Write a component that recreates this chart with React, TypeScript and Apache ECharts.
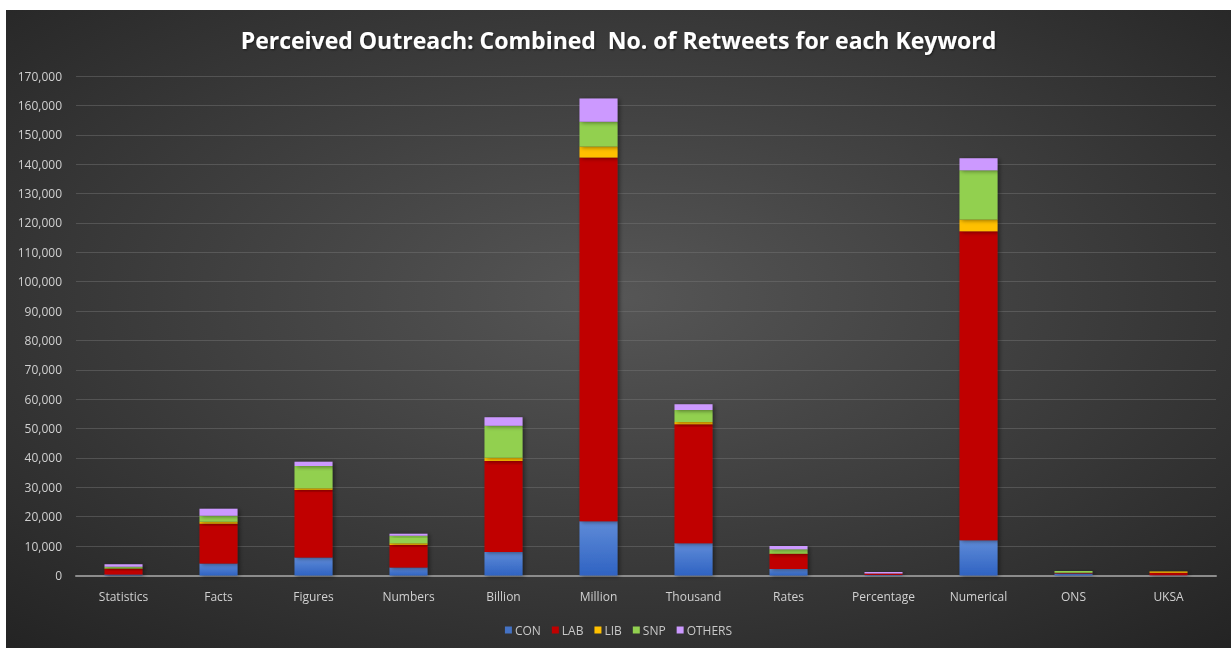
import React, { useEffect, useRef } from "react";
import * as echarts from "echarts";

const categories = ["Statistics", "Facts", "Figures", "Numbers", "Billion", "Million", "Thousand", "Rates", "Percentage", "Numerical", "ONS", "UKSA"];
const conValues = [300, 4100, 6100, 2700, 8000, 18500, 11000, 2200, 200, 12000, 700, 100];
const labValues = [2000, 13500, 23000, 7700, 31000, 123800, 40500, 5100, 500, 105200, 200, 800];
const libValues = [100, 700, 600, 600, 1100, 3700, 700, 200, 0, 4000, 0, 500];
const snpValues = [600, 2000, 7600, 2500, 10900, 8400, 4100, 1400, 0, 16700, 600, 0];
const otherValues = [800, 2400, 1400, 700, 2900, 7900, 2000, 1100, 500, 4100, 0, 0];

const titleText = "Perceived Outreach: Combined  No. of Retweets for each Keyword";

export default function App() {
  const ref = useRef<HTMLDivElement>(null);
  useEffect(() => {
    if (!ref.current) return;
    const chart = echarts.init(ref.current, undefined, { renderer: "svg" });
    const font = "'Open Sans', 'Noto Sans', sans-serif";
    const shadow = {
      shadowColor: "rgba(0,0,0,0.45)",
      shadowBlur: 4,
      shadowOffsetX: 2,
      shadowOffsetY: 1,
    };
    const mk = (name: string, data: number[], color: any, legendColor: string) => ({
      name,
      type: "bar",
      stack: "total",
      barWidth: 38,
      data,
      itemStyle: { color, ...shadow },
      emphasis: { disabled: true },
      _legendColor: legendColor,
    });
    const conGrad = new echarts.graphic.LinearGradient(0, 0, 0, 1, [
      { offset: 0, color: "#5f8bd8" },
      { offset: 1, color: "#2f63c2" },
    ]);
    const series = [
      mk("CON", conValues, conGrad, "#4472C4"),
      mk("LAB", labValues, "#C00000", "#C00000"),
      mk("LIB", libValues, "#FFC000", "#FFC000"),
      mk("SNP", snpValues, "#92D050", "#92D050"),
      mk("OTHERS", otherValues, "#CC99FF", "#CC99FF"),
    ];
    chart.setOption({
      animation: false,
      backgroundColor: {
        type: "radial",
        x: 0.5,
        y: 0.45,
        r: 0.75,
        colorStops: [
          { offset: 0, color: "#565656" },
          { offset: 1, color: "#232323" },
        ],
      },
      title: {
        text: titleText,
        left: "center",
        top: 13,
        textStyle: {
          color: "#ffffff",
          fontFamily: font,
          fontWeight: "bold",
          fontSize: 23,
          textShadowColor: "rgba(0,0,0,0.5)",
          textShadowBlur: 2,
          textShadowOffsetX: 1,
          textShadowOffsetY: 1,
        },
      },
      legend: {
        bottom: 7,
        left: "center",
        itemWidth: 7,
        itemHeight: 7,
        itemGap: 11,
        icon: "rect",
        textStyle: { color: "#c8c8c8", fontFamily: font, fontSize: 12, padding: [0, 0, 0, -2] },
        data: series.map((s) => ({ name: s.name, itemStyle: { color: s._legendColor } })),
      },
      grid: { left: 70, right: 15, top: 66, bottom: 72.5, containLabel: false },
      xAxis: {
        type: "category",
        data: categories,
        axisLine: { lineStyle: { color: "#8c8c8c", width: 2 } },
        axisTick: { show: false },
        axisLabel: { color: "#d0d0d0", fontFamily: font, fontSize: 12, margin: 15 },
      },
      yAxis: {
        type: "value",
        min: 0,
        max: 170000,
        interval: 10000,
        axisLine: { show: false },
        axisTick: { show: false },
        splitLine: { lineStyle: { color: "rgba(120,120,120,0.45)", width: 1 } },
        axisLabel: {
          color: "#d0d0d0",
          fontFamily: font,
          fontSize: 12,
          margin: 14,
          formatter: (v: number) => v.toLocaleString("en-US"),
        },
      },
      series: series.map(({ _legendColor, ...s }) => s),
    });
    return () => chart.dispose();
  }, []);
  return (
    <div
      ref={ref}
      style={{ position: "fixed", left: 6, top: 10, width: 1225, height: 638 }}
    />
  );
}
